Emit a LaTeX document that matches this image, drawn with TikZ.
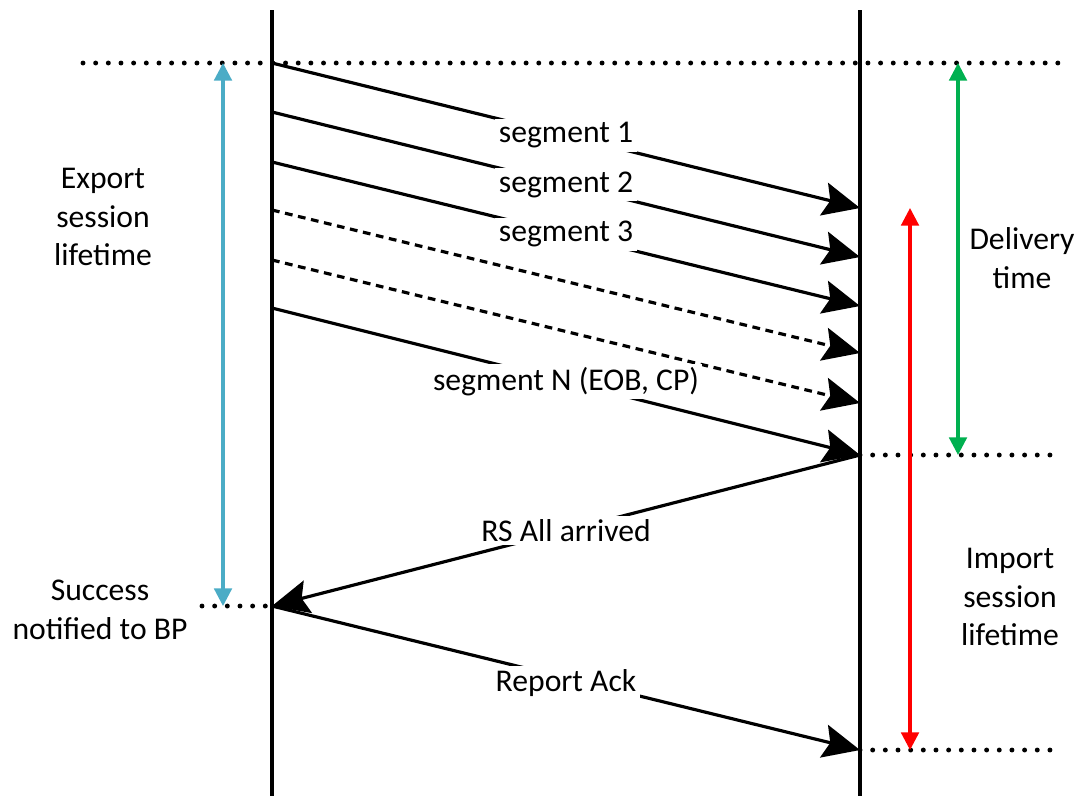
\documentclass[tikz,border=0pt]{standalone}
\usepackage{fontspec}
\setmainfont{Carlito}
\usetikzlibrary{arrows.meta}
\definecolor{expblue}{HTML}{4BACC6}
\definecolor{delgreen}{HTML}{00B050}
\begin{document}
\begin{tikzpicture}[x=0.01cm, y=-0.01cm,
    font=\fontsize{9}{11}\selectfont,
    life/.style={line width=0.9pt},
    msg/.style={line width=0.9pt, -{Stealth[length=10.5pt, width=9.5pt, inset=1.8pt]}},
    lost/.style={msg, dash pattern=on 2.2pt off 1.6pt},
    dots/.style={line width=1.4pt, line cap=round, dash pattern=on 0pt off 3.6pt},
    lbl/.style={fill=white, inner sep=1pt},
    txt/.style={align=center},
    span/.style={line width=0.9pt, {Triangle[length=5pt, width=5pt]}-{Triangle[length=5pt, width=5pt]}}]
    \useasboundingbox (0,0) rectangle (1080,796);
    % lifelines
    \draw[life] (272,10) -- (272,796);
    \draw[life] (860,10) -- (860,796);
    % sender and receiver points
    \coordinate (s1) at (272,63);
    \coordinate (s2) at (272,112);
    \coordinate (s3) at (272,162);
    \coordinate (s4) at (272,210);
    \coordinate (s5) at (272,260);
    \coordinate (sN) at (272,308);
    \coordinate (sRS) at (272,606);
    \coordinate (r1) at (860,208);
    \coordinate (r2) at (860,257);
    \coordinate (r3) at (860,306);
    \coordinate (r4) at (860,353);
    \coordinate (r5) at (860,403);
    \coordinate (rN) at (860,455);
    \coordinate (rRA) at (860,750);
    % dotted guides
    \draw[dots] (83,63) -- (1062,63);
    \draw[dots] (rN) -- (1062,455);
    \draw[dots] (rRA) -- (1062,750);
    \draw[dots] (202,606) -- (sRS);
    % messages
    \draw[msg] (s1) -- node[lbl] {segment 1} (r1);
    \draw[msg] (s2) -- node[lbl] {segment 2} (r2);
    \draw[msg] (s3) -- node[lbl] {segment 3} (r3);
    \draw[lost] (s4) -- (r4);
    \draw[lost] (s5) -- (r5);
    \draw[msg] (sN) -- node[lbl] {segment N (EOB, CP)} (rN);
    \draw[msg] (rN) -- node[lbl] {RS All arrived} (sRS);
    \draw[msg] (sRS) -- node[lbl, yshift=-1.5pt] {Report Ack} (rRA);
    % time spans
    \draw[span, expblue] (223,63) -- (223,606);
    \draw[span, delgreen] (958,63) -- (958,455);
    \draw[span, red] (910,208) -- (910,750);
    % side texts
    \node[txt] (export) at (103,217) {Export\\session\\lifetime};
    \node[txt] (success) at (100,610) {Success\\notified to BP};
    \node[txt] (delivery) at (1022,258) {Delivery\\time};
    \node[txt] (import) at (1010,597) {Import\\session\\lifetime};
\end{tikzpicture}
\end{document}
